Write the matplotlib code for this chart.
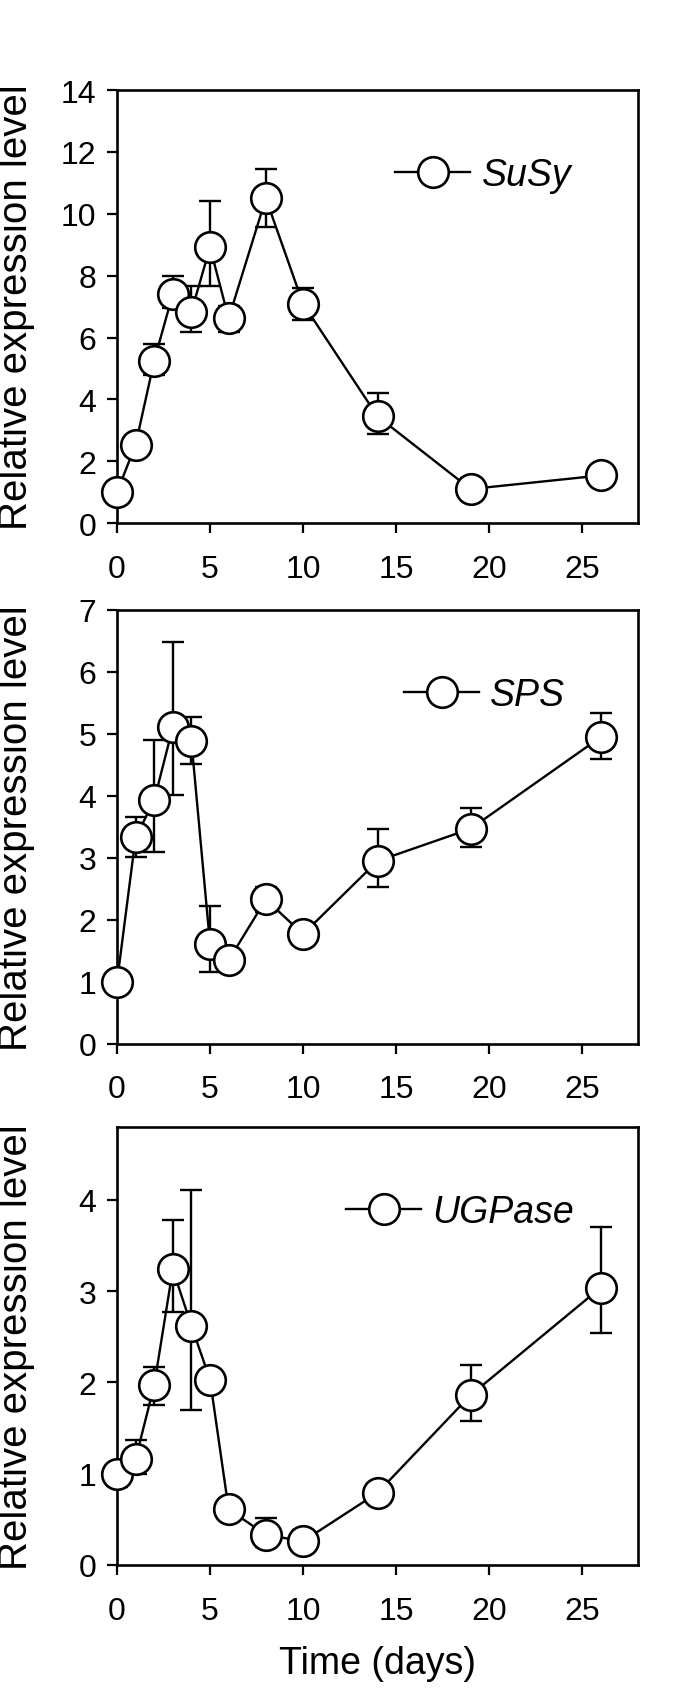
import matplotlib
matplotlib.use("Agg")
import matplotlib.pyplot as plt
from matplotlib.ticker import MultipleLocator

plt.rcParams['font.family'] = ['Liberation Sans', 'DejaVu Sans']

days = [0, 1, 2, 3, 4, 5, 6, 8, 10, 14, 19, 26]

susy = [1.0, 2.53, 5.25, 7.41, 6.84, 8.92, 6.62, 10.5, 7.09, 3.45, 1.10, 1.54]
susy_lo = [0.0, 0.0, 0.46, 0.45, 0.67, 1.24, 0.45, 0.92, 0.54, 0.56, 0.3, 0.0]
susy_hi = [0.0, 0.0, 0.53, 0.59, 0.84, 1.50, 0.40, 0.95, 0.50, 0.77, 0.35, 0.0]

sps = [1.0, 3.33, 3.93, 5.11, 4.88, 1.61, 1.35, 2.33, 1.77, 2.95, 3.47, 4.95]
sps_lo = [0.0, 0.31, 0.83, 1.10, 0.37, 0.45, 0.1, 0.20, 0.1, 0.42, 0.30, 0.35]
sps_hi = [0.0, 0.33, 0.98, 1.37, 0.40, 0.62, 0.1, 0.20, 0.1, 0.52, 0.34, 0.38]

ugp = [1.0, 1.16, 1.97, 3.24, 2.62, 2.03, 0.61, 0.33, 0.26, 0.79, 1.86, 3.04]
ugp_lo = [0.15, 0.16, 0.22, 0.47, 0.92, 0.0, 0.0, 0.13, 0.10, 0.0, 0.28, 0.50]
ugp_hi = [0.15, 0.21, 0.20, 0.54, 1.49, 0.0, 0.0, 0.18, 0.12, 0.0, 0.33, 0.66]

panels = [
    ("SuSy", susy, susy_lo, susy_hi, 14, [0, 2, 4, 6, 8, 10, 12, 14], (0.534, 0.804)),
    ("SPS", sps, sps_lo, sps_hi, 7, [0, 1, 2, 3, 4, 5, 6, 7], (0.551, 0.803)),
    ("UGPase", ugp, ugp_lo, ugp_hi, 4.8, [0, 1, 2, 3, 4], (0.44, 0.806)),
]

# axes rectangles in figure fractions (left, bottom, width, height)
rects = [
    (0.1708, 0.6899, 0.7606, 0.2562),
    (0.1708, 0.3817, 0.7606, 0.2568),
    (0.1708, 0.0734, 0.7606, 0.2592),
]

fig = plt.figure(figsize=(6.85, 16.9), dpi=100)

for i, (name, vals, lo, hi, ytop, yticks, legpos) in enumerate(panels):
    ax = fig.add_axes(rects[i])
    ax.errorbar(days, vals, yerr=[lo, hi], fmt='none', ecolor='black',
                elinewidth=1.7, capsize=8, capthick=1.7, zorder=2)
    ax.plot(days, vals, '-o', color='black', lw=1.7, ms=22,
            mfc='white', mec='black', mew=1.9, zorder=3, label=name,
            clip_on=False)

    ax.set_xlim(0, 28)
    ax.set_ylim(0, ytop)
    ax.xaxis.set_major_locator(MultipleLocator(5))
    ax.set_yticks(yticks)
    for sp in ax.spines.values():
        sp.set_linewidth(1.9)
    ax.tick_params(direction='out', length=7, width=1.6, labelsize=23,
                   top=False, right=False)
    ax.tick_params(axis='x', pad=15)
    ax.tick_params(axis='y', pad=8)
    ax.set_ylabel("Relative expression level", fontsize=29)
    ax.yaxis.set_label_coords(-0.158, 0.5)

    ax.legend(loc='center left', bbox_to_anchor=legpos,
              frameon=False, borderpad=0, borderaxespad=0,
              handlelength=2.0, handletextpad=0.3,
              prop={'style': 'italic', 'size': 27})

    if i == 2:
        ax.set_xlabel("Time (days)", fontsize=27, labelpad=14)

fig.savefig("out.png", dpi=100)
